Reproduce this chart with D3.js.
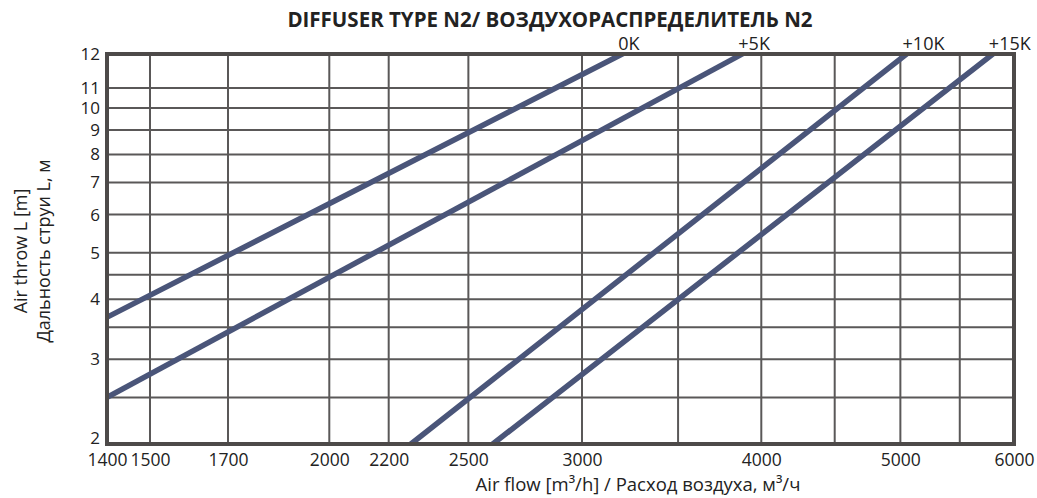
<!DOCTYPE html>
<html>
<head>
<meta charset="utf-8">
<script src="https://cdnjs.cloudflare.com/ajax/libs/d3/7.8.5/d3.min.js"></script>
<style>
  body { margin: 0; background: #fff; }
  text { font-family: "Open Sans", "Noto Sans", sans-serif; fill: #222; }
</style>
</head>
<body>
<svg id="chart" width="1037" height="498"></svg>
<script>
// ---- data (air flow m3/h -> air throw m) ----
var seriesNames = ["0K", "+5K", "+10K", "+15K"];
var flow0K  = [1400, 3200],  throw0K  = [3.67, 12];
var flow5K  = [1400, 3880],  throw5K  = [2.5, 12];
var flow10K = [2280, 5050],  throw10K = [2, 12];
var flow15K = [2600, 5800],  throw15K = [2, 12];

var xTicks = [1400, 1500, 1700, 2000, 2200, 2500, 3000, 4000, 5000, 6000];
var xGrid  = [1500, 1700, 2000, 2200, 2500, 3000, 3500, 4000, 4500, 5000, 5500];
var yTicks = [2, 3, 4, 5, 6, 7, 8, 9, 10, 11, 12];
var yGrid  = [2.5, 3, 3.5, 4, 4.5, 5, 6, 7, 8, 9, 10, 11];

var title  = "DIFFUSER TYPE N2/ ВОЗДУХОРАСПРЕДЕЛИТЕЛЬ N2";
var xTitle = "Air flow [m³/h] / Расход воздуха, м³/ч";
var yTitle1 = "Air throw L [m]";
var yTitle2 = "Дальность струи L, м";

var series = [
  {name: seriesNames[0], flow: flow0K,  thr: throw0K},
  {name: seriesNames[1], flow: flow5K,  thr: throw5K},
  {name: seriesNames[2], flow: flow10K, thr: throw10K},
  {name: seriesNames[3], flow: flow15K, thr: throw15K}
];

var svg = d3.select("#chart");
var pLeft = 107, pRight = 1014, pTop = 54, pBottom = 444;

var x = d3.scaleLog().domain([1400, 6000]).range([pLeft, pRight]);
// the original's top band 11..12 is stretched, so piecewise log
var y = d3.scaleLog().domain([2, 11, 12]).range([pBottom, 88, pTop]);

var gridColor = "#5a5858", lineColor = "#4a5579";

svg.append("defs").append("clipPath").attr("id", "plot")
  .append("rect")
  .attr("x", pLeft).attr("y", pTop)
  .attr("width", pRight - pLeft).attr("height", pBottom - pTop);

// grid
var grid = svg.append("g");
grid.selectAll(".vg").data(xGrid).enter().append("line")
  .attr("x1", d => x(d)).attr("x2", d => x(d))
  .attr("y1", pTop).attr("y2", pBottom)
  .attr("stroke", gridColor).attr("stroke-width", 2);
grid.selectAll(".hg").data(yGrid).enter().append("line")
  .attr("x1", pLeft).attr("x2", pRight)
  .attr("y1", d => y(d)).attr("y2", d => y(d))
  .attr("stroke", gridColor).attr("stroke-width", 2);

// curves
var line = d3.line()
  .x(function(d) { return x(d[0]); })
  .y(function(d) { return y(d[1]); });

svg.append("g").attr("clip-path", "url(#plot)")
  .selectAll("path").data(series).enter().append("path")
  .attr("d", function(s) { return line(d3.zip(s.flow, s.thr)); })
  .attr("fill", "none")
  .attr("stroke", lineColor)
  .attr("stroke-width", 5.5)
  .attr("stroke-linecap", "square");

// frame
svg.append("rect")
  .attr("x", pLeft).attr("y", pTop)
  .attr("width", pRight - pLeft).attr("height", pBottom - pTop)
  .attr("fill", "none").attr("stroke", "#4d4a49").attr("stroke-width", 4);

// series labels at top end
svg.selectAll(".lab").data(series).enter().append("text")
  .attr("x", function(s) { return x(s.flow[s.flow.length - 1]) - 4; })
  .attr("y", pTop - 4)
  .attr("font-size", 18)
  .text(function(s) { return s.name; });

// axis ticks
var xAxis = d3.axisBottom(x).tickValues(xTicks).tickFormat(d3.format("d")).tickSize(0).tickPadding(10);
var gx = svg.append("g").attr("transform", "translate(0," + pBottom + ")").call(xAxis);
gx.select(".domain").remove();
gx.selectAll("text").attr("font-size", 17.5).attr("fill", "#222")
  .style("font-family", "'Open Sans', sans-serif");

var yAxis = d3.axisLeft(y).tickValues(yTicks).tickFormat(d3.format("d")).tickSize(0).tickPadding(7);
var gy = svg.append("g").attr("transform", "translate(" + pLeft + ",0)").call(yAxis);
gy.select(".domain").remove();
gy.selectAll("text").attr("font-size", 17).attr("fill", "#222")
  .style("font-family", "'Open Sans', sans-serif");
// the "2" sits a little above the bottom frame in the original
gy.selectAll(".tick").filter(d => d === 2).select("text").attr("dy", "-0.05em");

// titles
svg.append("text")
  .attr("x", 550).attr("y", 27)
  .attr("text-anchor", "middle")
  .attr("font-size", 20.5).attr("font-weight", "bold")
  .text(title);

svg.append("text")
  .attr("x", 638).attr("y", 491)
  .attr("text-anchor", "middle")
  .attr("font-size", 18.5)
  .text(xTitle);

svg.append("text")
  .attr("transform", "translate(27,251) rotate(-90)")
  .attr("text-anchor", "middle")
  .attr("font-size", 18)
  .text(yTitle1);
svg.append("text")
  .attr("transform", "translate(50,251) rotate(-90)")
  .attr("text-anchor", "middle")
  .attr("font-size", 18)
  .text(yTitle2);
</script>
</body>
</html>
